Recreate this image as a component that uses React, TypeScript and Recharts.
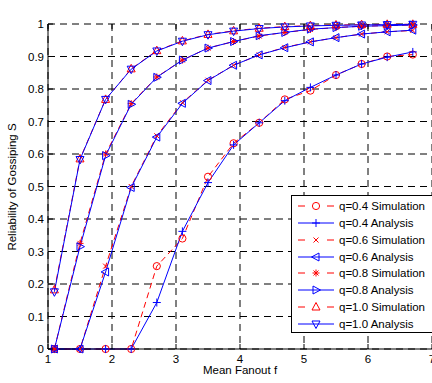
import React from 'react';
import { LineChart, Line, XAxis, YAxis, CartesianGrid, Legend, Label } from 'recharts';

// mean fanout values where the curves were sampled
const fanout = [1.1, 1.5, 1.9, 2.3, 2.7, 3.1, 3.5, 3.9, 4.3, 4.7, 5.1, 5.5, 5.9, 6.3, 6.7];

const q04Sim = [0, 0, 0, 0, 0.255, 0.34, 0.53, 0.633, 0.696, 0.768, 0.795, 0.843, 0.877, 0.9, 0.906];
const q04Ana = [0, 0, 0, 0, 0.143, 0.362, 0.512, 0.628, 0.696, 0.764, 0.805, 0.843, 0.877, 0.898, 0.914];
const q06Sim = [0, 0, 0.255, 0.5, 0.656, 0.758, 0.827, 0.873, 0.905, 0.928, 0.945, 0.958, 0.969, 0.976, 0.98];
const q06Ana = [0, 0, 0.237, 0.497, 0.652, 0.756, 0.826, 0.873, 0.905, 0.927, 0.945, 0.958, 0.969, 0.976, 0.981];
const q08Sim = [0, 0.325, 0.6, 0.755, 0.837, 0.889, 0.926, 0.946, 0.963, 0.974, 0.983, 0.989, 0.993, 0.995, 0.997];
const q08Ana = [0, 0.315, 0.595, 0.753, 0.836, 0.889, 0.926, 0.946, 0.964, 0.974, 0.984, 0.989, 0.993, 0.995, 0.997];
const q10Sim = [0.182, 0.585, 0.768, 0.862, 0.918, 0.948, 0.968, 0.979, 0.987, 0.992, 0.995, 0.997, 0.998, 0.999, 0.999];
const q10Ana = [0.176, 0.583, 0.768, 0.861, 0.917, 0.947, 0.967, 0.978, 0.986, 0.991, 0.994, 0.996, 0.997, 0.998, 0.999];

const xTicks = [1, 2, 3, 4, 5, 6, 7];
const yTicks = [0, 0.1, 0.2, 0.3, 0.4, 0.5, 0.6, 0.7, 0.8, 0.9, 1];

type Shape = 'circle' | 'plus' | 'x' | 'star' | 'up' | 'down' | 'left' | 'right';

const series: { key: string; name: string; values: number[]; color: string; dashed: boolean; shape: Shape }[] = [
  { key: 's04', name: 'q=0.4 Simulation', values: q04Sim, color: '#ff0000', dashed: true, shape: 'circle' },
  { key: 'a04', name: 'q=0.4 Analysis', values: q04Ana, color: '#0000ff', dashed: false, shape: 'plus' },
  { key: 's06', name: 'q=0.6 Simulation', values: q06Sim, color: '#ff0000', dashed: true, shape: 'x' },
  { key: 'a06', name: 'q=0.6 Analysis', values: q06Ana, color: '#0000ff', dashed: false, shape: 'left' },
  { key: 's08', name: 'q=0.8 Simulation', values: q08Sim, color: '#ff0000', dashed: true, shape: 'star' },
  { key: 'a08', name: 'q=0.8 Analysis', values: q08Ana, color: '#0000ff', dashed: false, shape: 'right' },
  { key: 's10', name: 'q=1.0 Simulation', values: q10Sim, color: '#ff0000', dashed: true, shape: 'up' },
  { key: 'a10', name: 'q=1.0 Analysis', values: q10Ana, color: '#0000ff', dashed: false, shape: 'down' },
];

const data = fanout.map((f, i) => {
  const row: Record<string, number> = { f };
  series.forEach(s => { row[s.key] = s.values[i]; });
  return row;
});

const FONT = '"Liberation Sans", Arial, sans-serif';
const FS = 11.5;
const PLOT_TOP = 24;
const PLOT_BOTTOM = 349;
const PLOT_LEFT = 48;

const Marker = ({ cx, cy, shape, color }: { cx: number; cy: number; shape: Shape; color: string }) => {
  const p = { stroke: color, strokeWidth: 1, fill: 'none' };
  switch (shape) {
    case 'circle':
      return <circle cx={cx} cy={cy} r={3.6} {...p} />;
    case 'plus':
      return <path d={`M${cx - 4},${cy}H${cx + 4}M${cx},${cy - 4}V${cy + 4}`} {...p} />;
    case 'x':
      return <path d={`M${cx - 2.5},${cy - 2.5}L${cx + 2.5},${cy + 2.5}M${cx - 2.5},${cy + 2.5}L${cx + 2.5},${cy - 2.5}`} {...p} />;
    case 'star':
      return <path d={`M${cx - 3.5},${cy}H${cx + 3.5}M${cx},${cy - 3.5}V${cy + 3.5}M${cx - 2.5},${cy - 2.5}L${cx + 2.5},${cy + 2.5}M${cx - 2.5},${cy + 2.5}L${cx + 2.5},${cy - 2.5}`} {...p} />;
    case 'up':
      return <polygon points={`${cx},${cy - 4.5} ${cx - 4},${cy + 3} ${cx + 4},${cy + 3}`} {...p} />;
    case 'down':
      return <polygon points={`${cx},${cy + 4.5} ${cx - 4},${cy - 3} ${cx + 4},${cy - 3}`} {...p} />;
    case 'left':
      return <polygon points={`${cx - 4.5},${cy} ${cx + 3},${cy - 4} ${cx + 3},${cy + 4}`} {...p} />;
    case 'right':
      return <polygon points={`${cx + 4.5},${cy} ${cx - 3},${cy - 4} ${cx - 3},${cy + 4}`} {...p} />;
  }
  return null;
};

const XTick = (props: any) => {
  const { x, payload } = props;
  return (
    <g>
      <line x1={x} x2={x} y1={PLOT_BOTTOM} y2={PLOT_BOTTOM - 5} stroke="#000" />
      <line x1={x} x2={x} y1={PLOT_TOP} y2={PLOT_TOP + 5} stroke="#000" />
      <text x={x} y={PLOT_BOTTOM + 14} textAnchor="middle" fontSize={FS} fontFamily={FONT} fill="#000">
        {payload.value}
      </text>
    </g>
  );
};

const YTick = (props: any) => {
  const { y, payload } = props;
  return (
    <g>
      <line x1={PLOT_LEFT} x2={PLOT_LEFT + 5} y1={y} y2={y} stroke="#000" />
      <text x={PLOT_LEFT - 4} y={y + 4} textAnchor="end" fontSize={FS} fontFamily={FONT} fill="#000">
        {payload.value}
      </text>
    </g>
  );
};

const LegendBox = () => (
  <div style={{ border: '1px solid #000', background: '#fff', paddingTop: 2, fontFamily: FONT, fontSize: FS, color: '#000' }}>
    {series.map(s => (
      <div key={s.key} style={{ display: 'flex', alignItems: 'center', height: 16.75 }}>
        <svg width={47} height={16} style={{ display: 'block' }}>
          {s.dashed ? (
            <path d="M6,8H13M35,8H42" stroke={s.color} />
          ) : (
            <path d="M6,8H42" stroke={s.color} />
          )}
          <Marker cx={24} cy={8} shape={s.shape} color={s.color} />
        </svg>
        <span style={{ whiteSpace: 'nowrap' }}>{s.name}</span>
      </div>
    ))}
  </div>
);

export default function App() {
  return (
    <div style={{ position: 'absolute', left: 0, top: 0, width: 432, height: 383, overflow: 'hidden', background: '#fff' }}>
      <LineChart width={440} height={383} data={data} margin={{ top: 24, right: 8, bottom: 0, left: 0 }}>
        <CartesianGrid stroke="#000" strokeDasharray="7 5" strokeWidth={1} />
        <XAxis
          dataKey="f"
          type="number"
          domain={[1, 7]}
          ticks={xTicks}
          height={34}
          tickSize={0}
          tickLine={false}
          axisLine={{ stroke: '#000' }}
          tick={<XTick />}
        >
          <Label
            content={() => (
              <text x={240} y={374} textAnchor="middle" fontSize={FS} fontFamily={FONT} fill="#000">
                Mean Fanout f
              </text>
            )}
          />
        </XAxis>
        <XAxis
          xAxisId="top"
          orientation="top"
          type="number"
          domain={[1, 7]}
          height={0}
          tick={false}
          tickLine={false}
          axisLine={{ stroke: '#000' }}
        >
          <Label
            content={() => (
              <text x={239} y={15} textAnchor="middle" fontSize={FS} fontFamily={FONT} fill="#000">
                Gossiping Simulation ( Nodes =5000 )
              </text>
            )}
          />
        </XAxis>
        <YAxis
          type="number"
          domain={[0, 1]}
          ticks={yTicks}
          width={48}
          tickSize={0}
          tickLine={false}
          axisLine={{ stroke: '#000' }}
          tick={<YTick />}
        >
          <Label
            content={() => (
              <text x={16} y={187} transform="rotate(-90 16 187)" textAnchor="middle" fontSize={FS} fontFamily={FONT} fill="#000">
                Reliability of Gossiping S
              </text>
            )}
          />
        </YAxis>
        <Legend
          layout="vertical"
          align="center"
          verticalAlign="middle"
          wrapperStyle={{ left: 291, top: 195, width: 150 }}
          content={<LegendBox />}
        />
        {series.map(s => (
          <Line
            key={s.key}
            dataKey={s.key}
            name={s.name}
            type="linear"
            stroke={s.color}
            strokeWidth={1}
            strokeDasharray={s.dashed ? '6 4' : undefined}
            isAnimationActive={false}
            activeDot={false}
            dot={(p: any) => <Marker key={`${s.key}-${p.index}`} cx={p.cx} cy={p.cy} shape={s.shape} color={s.color} />}
          />
        ))}
      </LineChart>
    </div>
  );
}
